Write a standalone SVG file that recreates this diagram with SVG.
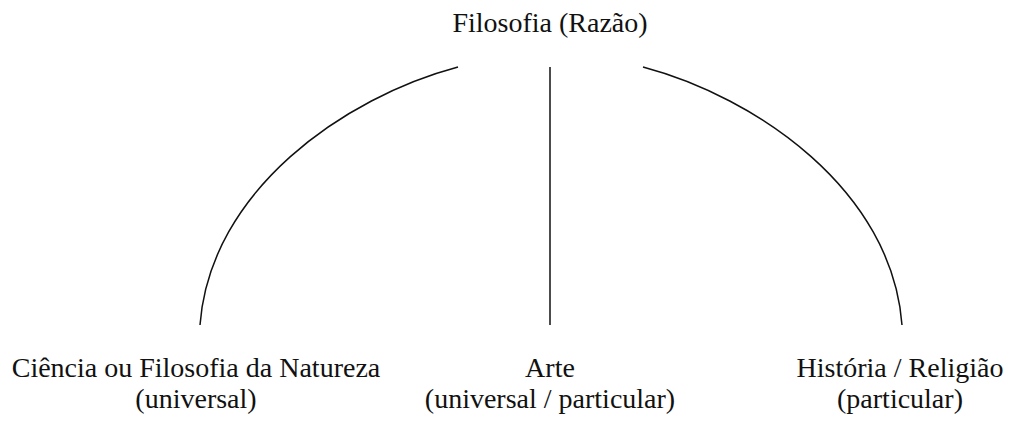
<svg xmlns="http://www.w3.org/2000/svg" width="1013" height="424" viewBox="0 0 1013 424">
<style>
text{font-family:"Liberation Serif","Times New Roman",serif;font-size:28px;fill:#111;text-anchor:middle}
.c{fill:none;stroke:#111;stroke-width:1.5}
</style>
<rect width="1013" height="424" fill="#fff"/>
<g id="top"><text x="550" y="32">Filosofia (Razão)</text></g>
<g id="ciencia"><text x="196" y="377">Ciência ou Filosofia da Natureza</text><text x="196" y="408">(universal)</text></g>
<g id="arte"><text x="550" y="377">Arte</text><text x="550" y="408">(universal / particular)</text></g>
<g id="historia"><text x="900" y="377">História / Religião</text><text x="900" y="408">(particular)</text></g>
<g id="connectors">
<path class="c" d="M458,67 C345,97 210,190 200,325"/>
<path class="c" d="M550,67 L550,325"/>
<path class="c" d="M643,67 C756,97 892,190 902,325"/>
</g>
</svg>
